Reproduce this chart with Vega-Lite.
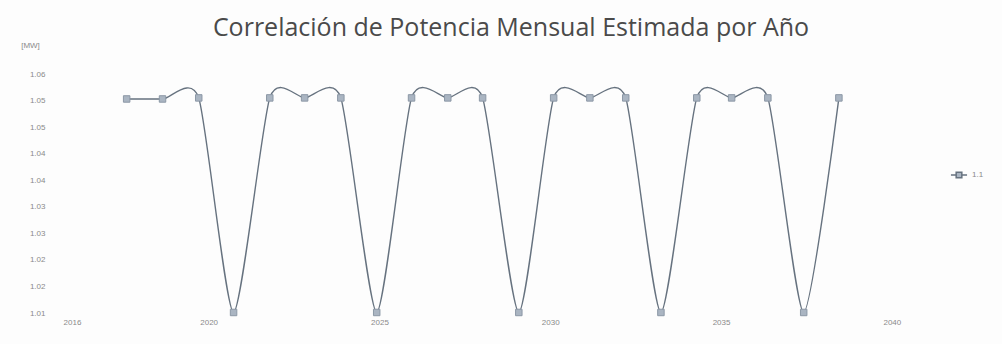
{
  "$schema": "https://vega.github.io/schema/vega-lite/v6.json",
  "autosize": {"type": "none"},
  "width": 854,
  "height": 239,
  "padding": {"left": 72, "top": 74, "right": 76, "bottom": 31},
  "background": "#fdfdfd",
  "title": {
    "text": "Correlación de Potencia Mensual Estimada por Año",
    "font": "Open Sans",
    "fontSize": 25,
    "fontWeight": "normal",
    "color": "#4a4a4a",
    "anchor": "middle",
    "dx": 12,
    "offset": 0
  },
  "config": {
    "view": {"stroke": null},
    "font": "Liberation Sans"
  },
  "data": {
    "values": [
      {"anio": 2017.60, "mw": 1.0503, "serie": "1.1"},
      {"anio": 2018.65, "mw": 1.0503, "serie": "1.1"},
      {"anio": 2019.71, "mw": 1.0505, "serie": "1.1"},
      {"anio": 2020.73, "mw": 1.0101, "serie": "1.1"},
      {"anio": 2021.79, "mw": 1.0505, "serie": "1.1"},
      {"anio": 2022.81, "mw": 1.0505, "serie": "1.1"},
      {"anio": 2023.87, "mw": 1.0505, "serie": "1.1"},
      {"anio": 2024.92, "mw": 1.0101, "serie": "1.1"},
      {"anio": 2025.94, "mw": 1.0505, "serie": "1.1"},
      {"anio": 2027.00, "mw": 1.0505, "serie": "1.1"},
      {"anio": 2028.02, "mw": 1.0505, "serie": "1.1"},
      {"anio": 2029.08, "mw": 1.0101, "serie": "1.1"},
      {"anio": 2030.10, "mw": 1.0505, "serie": "1.1"},
      {"anio": 2031.16, "mw": 1.0505, "serie": "1.1"},
      {"anio": 2032.21, "mw": 1.0505, "serie": "1.1"},
      {"anio": 2033.24, "mw": 1.0101, "serie": "1.1"},
      {"anio": 2034.29, "mw": 1.0505, "serie": "1.1"},
      {"anio": 2035.31, "mw": 1.0505, "serie": "1.1"},
      {"anio": 2036.37, "mw": 1.0505, "serie": "1.1"},
      {"anio": 2037.42, "mw": 1.0101, "serie": "1.1"},
      {"anio": 2038.45, "mw": 1.0505, "serie": "1.1"}
    ]
  },
  "encoding": {
    "x": {
      "field": "anio",
      "type": "quantitative",
      "scale": {"domain": [2016, 2041], "zero": false, "nice": false},
      "axis": {
        "values": [2016, 2020, 2025, 2030, 2035, 2040],
        "format": "d",
        "title": null,
        "grid": false,
        "domain": false,
        "ticks": false,
        "labelFlush": false,
        "labelFontSize": 8,
        "labelColor": "#8a8a8a",
        "labelPadding": 5
      }
    },
    "y": {
      "field": "mw",
      "type": "quantitative",
      "scale": {"domain": [1.01, 1.055], "zero": false, "nice": false},
      "axis": {
        "values": [1.01, 1.015, 1.02, 1.025, 1.03, 1.035, 1.04, 1.045, 1.05, 1.055],
        "labelExpr": "format(datum.value + 0.0001, '.2f')",
        "title": "[MW]",
        "titleAngle": 0,
        "titleX": -42,
        "titleY": -29,
        "titleAlign": "center",
        "titleBaseline": "middle",
        "titleFontSize": 8,
        "titleFontWeight": "normal",
        "titleColor": "#8a8a8a",
        "grid": false,
        "domain": false,
        "ticks": false,
        "labelFontSize": 8,
        "labelColor": "#8a8a8a",
        "labelPadding": 27
      }
    }
  },
  "layer": [
    {
      "mark": {"type": "line", "interpolate": "cardinal", "tension": 0.35, "strokeWidth": 1.4, "color": "#66727f"},
      "encoding": {}
    },
    {
      "mark": {"type": "point", "shape": "square", "filled": true, "size": 42, "stroke": "#8c98a6", "strokeWidth": 1, "opacity": 1},
      "encoding": {
        "color": {
          "field": "serie",
          "type": "nominal",
          "scale": {"range": ["#aab5c2"]},
          "legend": {
            "title": null,
            "orient": "none",
            "legendX": 878,
            "legendY": 92,
            "symbolType": "M-1,0L-0.35,0M0.35,0L1,0M-0.35,-0.35L0.35,-0.35L0.35,0.35L-0.35,0.35Z",
            "symbolSize": 260,
            "symbolStrokeColor": "#66727f",
            "symbolStrokeWidth": 1.5,
            "labelFontSize": 8,
            "labelColor": "#8a8a8a"
          }
        }
      }
    }
  ]
}
